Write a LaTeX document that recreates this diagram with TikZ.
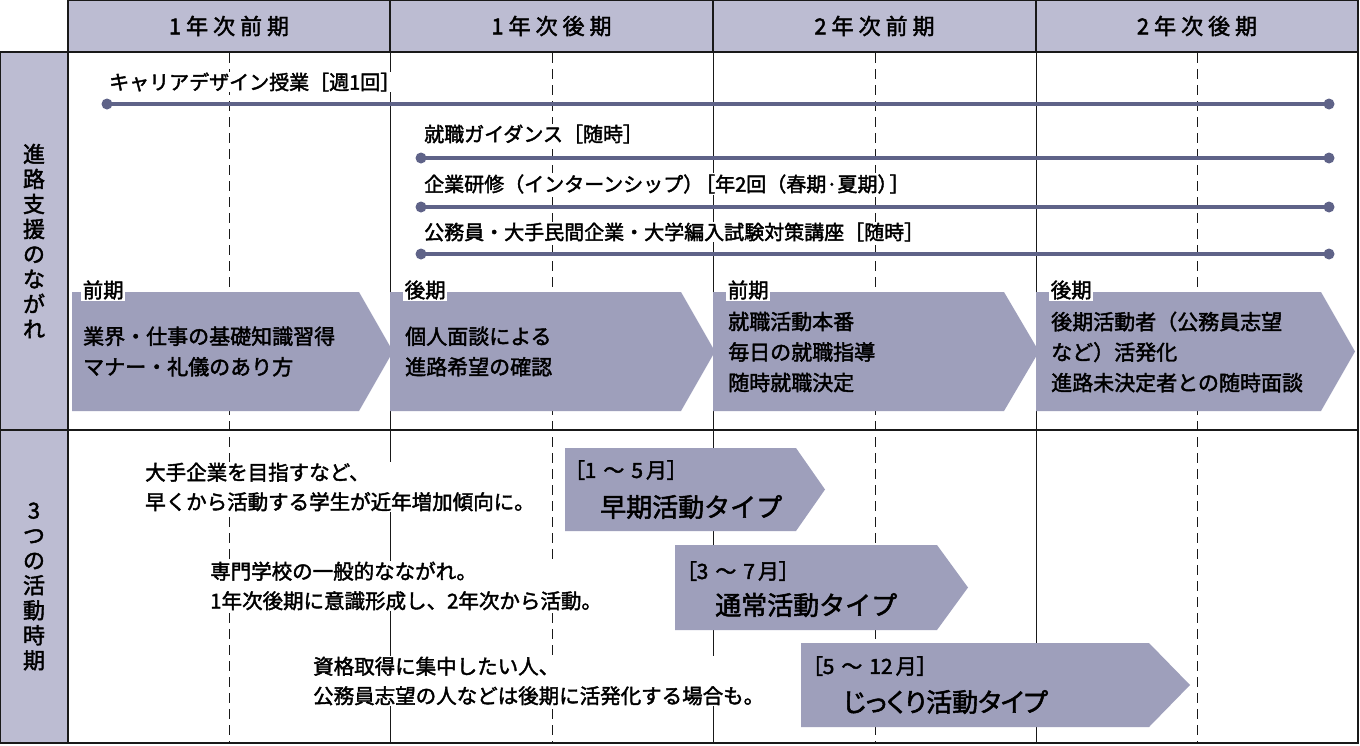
\documentclass[tikz,border=0pt]{standalone}
\usepackage{fontspec}
\setmainfont{Noto Sans CJK JP}
\newfontfamily\medf{Noto Sans CJK JP}[FakeBold=2]
\newfontfamily\medp{Noto Sans CJK JP}[FakeBold=2, RawFeature=+palt]
\definecolor{hdrfill}{RGB}{188,188,210}
\definecolor{arwfill}{RGB}{158,159,187}
\definecolor{tlcol}{RGB}{95,99,136}
\definecolor{gridcol}{RGB}{25,25,25}
\newcommand\fsz[2]{\fontsize{#1}{#2}\selectfont}
\newcommand\ls{\kern5pt}
\newcommand\chev[5]{\fill[arwfill] (#1,#2) -- (#3,#2) -- (#5,{(#2+#4)/2}) -- (#3,#4) -- (#1,#4) -- cycle;}
\begin{document}
\begin{tikzpicture}[x=1pt,y=-1pt,
  cell/.style={draw=gridcol, line width=1.3pt, fill=hdrfill, inner sep=0pt},
  hdrtext/.style={font=\medf\fsz{22}{26}},
  vtext/.style={align=center, font=\medf\fsz{22}{25}, inner sep=0pt},
  gridline/.style={draw=gridcol, line width=1pt},
  dashline/.style={draw=gridcol, line width=1pt, dash pattern=on 10pt off 6pt},
  tline/.style={draw=tlcol, line width=3.5pt},
  tdot/.style={fill=tlcol},
  tlabel/.style={anchor=west, fill=white, inner sep=1pt, font=\medf\fsz{20}{24}},
  phase/.style={anchor=west, fill=white, inner sep=1.5pt, font=\medf\fsz{20.5}{24}},
  arrtext/.style={anchor=west, align=left, inner sep=0pt, font=\medf\fsz{21}{30.5}},
  lefttext/.style={anchor=west, align=left, fill=white, inner sep=1pt, font=\medf\fsz{20.5}{29.5}},
  rng/.style={anchor=west, inner sep=0pt, font=\medp\fsz{21}{24}},
  typ/.style={anchor=west, inner sep=0pt, font=\medf\fsz{26}{30}},
  typp/.style={anchor=west, inner sep=0pt, font=\medp\fsz{26}{30}}
]
\useasboundingbox (0,0) rectangle (1360,745);
\fill[white] (0,0) rectangle (1360,745);

% header cells
\node[cell, minimum width=322pt, minimum height=52pt] (h1) at (229,26) {};
\node[cell, minimum width=323pt, minimum height=52pt] (h2) at (551.5,26) {};
\node[cell, minimum width=323pt, minimum height=52pt] (h3) at (874.5,26) {};
\node[cell, minimum width=322pt, minimum height=52pt] (h4) at (1197,26) {};
\node[hdrtext] (ht1) at (h1.center) {1\ls 年\ls 次\ls 前\ls 期};
\node[hdrtext] (ht2) at (h2.center) {1\ls 年\ls 次\ls 後\ls 期};
\node[hdrtext] (ht3) at (h3.center) {2\ls 年\ls 次\ls 前\ls 期};
\node[hdrtext] (ht4) at (h4.center) {2\ls 年\ls 次\ls 後\ls 期};

% side cells
\node[cell, minimum width=68pt, minimum height=378pt] (s1) at (34,241) {};
\node[cell, minimum width=68pt, minimum height=313pt] (s2) at (34,586.5) {};
\node[vtext] (v1) at (s1.center) {進\\路\\支\\援\\の\\な\\が\\れ};
\node[vtext] (v2) at (s2.center) {3\\つ\\の\\活\\動\\時\\期};

% body frame and grid
\draw[gridline, line width=1.3pt] (68,52) rectangle (1358,743);
\draw[gridline, line width=1.3pt] (68,430) -- (1358,430);
\foreach \x in {390,713,1036} \draw[gridline] (\x,52) -- (\x,743);
\foreach \x in {229.5,552,875,1197.5} \draw[dashline] (\x,53) -- (\x,743);

% timelines
\coordinate (a1) at (107,104); \coordinate (b1) at (1329,104);
\coordinate (a2) at (421,158); \coordinate (b2) at (1329,158);
\coordinate (a3) at (421,207); \coordinate (b3) at (1329,207);
\coordinate (a4) at (421,254); \coordinate (b4) at (1329,254);
\foreach \i in {1,2,3,4} {
  \draw[tline] (a\i) -- (b\i);
  \fill[tdot] (a\i) circle (5.5);
  \fill[tdot] (b\i) circle (5.5);
}
\node[tlabel] (l1) at (108,82) {キャリアデザイン授業［週1回］};
\node[tlabel] (l2) at (423,134) {就職ガイダンス［随時］};
\node[tlabel] (l3) at (423,184) {企業研修（インターンシップ）\kern-8pt［年2回（春期·夏期）\kern-8pt］};
\node[tlabel] (l4) at (423,232) {公務員・大手民間企業・大学編入試験対策講座［随時］};

% row 1 chevrons
\chev{72}{292}{359}{411}{393}
\chev{390}{292}{681}{411}{715}
\chev{713}{292}{1004}{411}{1039}
\chev{1036}{292}{1321}{411}{1355}
\node[phase] (p1) at (81,290) {前期};
\node[phase] (p2) at (403,290) {後期};
\node[phase] (p3) at (726,290) {前期};
\node[phase] (p4) at (1049,290) {後期};
\node[arrtext] (t1) at (83,351.5) {業界・仕事の基礎知識習得\\マナー・礼儀のあり方};
\node[arrtext] (t2) at (405,351.5) {個人面談による\\進路希望の確認};
\node[arrtext] (t3) at (728,352) {就職活動本番\\毎日の就職指導\\随時就職決定};
\node[arrtext] (t4) at (1051,352) {後期活動者（公務員志望\\など）活発化\\進路未決定者との随時面談};

% row 2
\node[lefttext] (d1) at (144,487) {大手企業を目指すなど、\\早くから活動する学生が近年増加傾向に。};
\node[lefttext] (d2) at (209,586) {専門学校の一般的なながれ。\\1年次後期に意識形成し、2年次から活動。};
\node[lefttext] (d3) at (312,681) {資格取得に集中したい人、\\公務員志望の人などは後期に活発化する場合も。};

\chev{565}{448}{796}{531}{825}
\chev{675}{545}{937}{630}{968}
\chev{801}{643}{1149}{727}{1190}
\node[rng] (r1) at (574,470) {［1\kern7pt ～\kern7pt 5\kern3pt 月］};
\node[typ] (y1) at (600,507) {早期活動タイプ};
\node[rng] (r2) at (686,571) {［3\kern7pt ～\kern7pt 7\kern3pt 月］};
\node[typ] (y2) at (715,605) {通常活動タイプ};
\node[rng] (r3) at (812,666) {［5\kern7pt ～\kern7pt 12\kern3pt 月］};
\node[typp] (y3) at (843,702) {じっくり活動タイプ};
\end{tikzpicture}
\end{document}
